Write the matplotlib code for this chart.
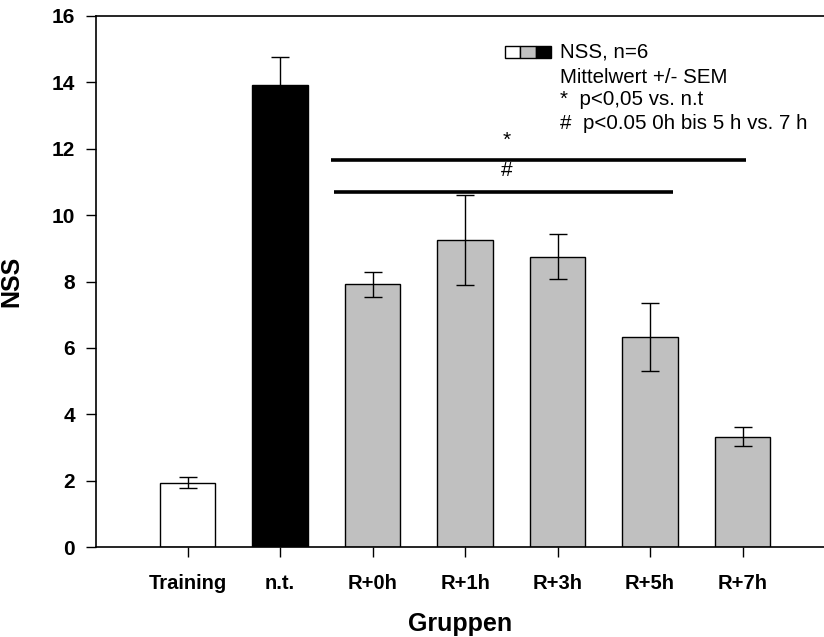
import numpy as np
import matplotlib
matplotlib.use("Agg")
import matplotlib.pyplot as plt
from matplotlib.patches import Rectangle

plt.rcParams['font.family'] = ['Liberation Sans', 'DejaVu Sans']

groups = ["Training", "n.t.", "R+0h", "R+1h", "R+3h", "R+5h", "R+7h"]
nss = [1.95, 13.9, 7.91, 9.25, 8.75, 6.33, 3.33]
sem = [0.16, 0.86, 0.39, 1.35, 0.67, 1.01, 0.28]
colors = ["white", "black", "#c0c0c0", "#c0c0c0", "#c0c0c0", "#c0c0c0", "#c0c0c0"]

# significance bars: (x start, x end, y, symbol, symbol y)
sig_star = (1.55, 6.04, 11.65, "*", 12.25)
sig_hash = (1.58, 5.25, 10.70, "#", 11.34)

fig = plt.figure(figsize=(8.24, 6.37), dpi=100)
ax = fig.add_axes([96 / 824, 1 - 547.3 / 637, 1 - 96 / 824, (547.3 - 15.7) / 637])

x = np.arange(len(groups))
ax.bar(x, nss, width=0.6, color=colors, edgecolor="black", linewidth=1.0, zorder=2)
ax.errorbar(x, nss, yerr=sem, fmt="none", ecolor="black", elinewidth=1.0,
            capsize=6.5, capthick=1.0, zorder=3)

ax.set_xlim(-0.99, 6.88)
ax.set_ylim(0, 16)
ax.set_yticks(np.arange(0, 17, 2))
ax.set_xticks(x)
ax.set_xticklabels(groups)

for lab in ax.get_xticklabels():
    lab.set_fontweight("bold")
    lab.set_fontsize(14.5)
for lab in ax.get_yticklabels():
    lab.set_fontweight("bold")
    lab.set_fontsize(15)

ax.tick_params(direction="out", length=7, width=1.0, pad=8)
ax.tick_params(axis="x", pad=12)
ax.spines["right"].set_visible(False)
for s in ["left", "bottom", "top"]:
    ax.spines[s].set_linewidth(1.2)

ax.set_ylabel("NSS", fontsize=18, fontweight="bold")
ax.set_xlabel("Gruppen", fontsize=18, fontweight="bold", labelpad=14)
ax.yaxis.set_label_coords(-(96 - 23) / 728, 0.5)

for x0, x1, y, sym, sy in [sig_star, sig_hash]:
    ax.plot([x0, x1], [y, y], color="black", linewidth=2.6, solid_capstyle="butt", zorder=4)
    ax.text(3.45, sy, sym, ha="center", va="center", fontsize=15)

# legend
sq_w = 0.021
sq_h = 0.0237
for i, c in enumerate(["white", "#c0c0c0", "black"]):
    ax.add_patch(Rectangle((0.5618 + i * sq_w, 0.920), sq_w, sq_h, transform=ax.transAxes,
                           facecolor=c, edgecolor="black", linewidth=1.0, clip_on=False))
legend_lines = ["NSS, n=6", "Mittelwert +/- SEM", "*  p<0,05 vs. n.t",
                "#  p<0.05 0h bis 5 h vs. 7 h"]
legend_y = [0.9323, 0.884, 0.8415, 0.7964]
for t, yy in zip(legend_lines, legend_y):
    ax.text(0.637, yy, t, transform=ax.transAxes, fontsize=14.8, va="center", ha="left")

fig.savefig("out.png", dpi=100)
